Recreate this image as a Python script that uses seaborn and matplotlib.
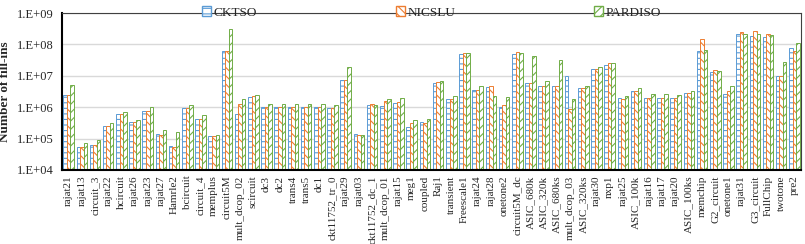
import matplotlib
matplotlib.use("Agg")
import matplotlib.pyplot as plt
import matplotlib.ticker as mticker
import seaborn as sns
import pandas as pd
import numpy as np

categories = ["rajat21", "rajat13", "circuit_3", "rajat22", "hcircuit", "rajat26", "rajat23", "rajat27",
              "Hamrle2", "bcircuit", "circuit_4", "memplus", "circuit5M", "mult_dcop_02", "scircuit", "dc3",
              "dc2", "trans4", "trans5", "dc1", "ckt11752_tr_0", "rajat29", "rajat03", "ckt11752_dc_1",
              "mult_dcop_01", "rajat15", "meg1", "coupled", "Raj1", "transient", "Freescale1", "rajat24",
              "rajat28", "onetone2", "circuit5M_dc", "ASIC_680k", "ASIC_320k", "ASIC_680ks", "mult_dcop_03",
              "ASIC_320ks", "rajat30", "nxp1", "rajat25", "ASIC_100k", "rajat16", "rajat17", "rajat20",
              "ASIC_100ks", "memchip", "G2_circuit", "onetone1", "rajat31", "G3_circuit", "FullChip",
              "twotone", "pre2"]

cktso = [2.4e6, 5.6e4, 6.4e4, 2.5e5, 6.3e5, 3.4e5, 7.8e5, 1.4e5,
         5.9e4, 9.1e5, 4.2e5, 1.2e5, 6.1e7, 6.0e5, 2.15e6, 1.0e6,
         1.0e6, 1.0e6, 1.0e6, 1.0e6, 9.1e5, 7.4e6, 1.45e5, 1.15e6,
         1.07e6, 1.4e6, 2.3e5, 3.4e5, 6.1e6, 1.8e6, 4.8e7, 3.6e6,
         4.3e6, 1.0e6, 5.0e7, 6.1e6, 4.9e6, 4.7e6, 1.0e7,
         4.0e6, 1.7e7, 2.2e7, 2.0e6, 3.4e6, 2.0e6, 2.0e6, 1.9e6,
         2.8e6, 6.0e7, 1.3e7, 2.6e6, 2.1e8, 1.85e8, 1.7e8,
         1.0e7, 7.8e7]
nicslu = [2.4e6, 5.6e4, 6.4e4, 2.5e5, 6.3e5, 3.4e5, 7.8e5, 1.3e5,
          5.6e4, 9.1e5, 4.2e5, 1.2e5, 6.1e7, 1.3e6, 2.2e6, 1.0e6,
          1.0e6, 1.0e6, 1.0e6, 1.0e6, 9.1e5, 7.4e6, 1.35e5, 1.3e6,
          1.6e6, 1.5e6, 3.2e5, 3.2e5, 6.4e6, 1.8e6, 5.3e7, 3.6e6,
          4.9e6, 1.2e6, 5.8e7, 6.1e6, 4.9e6, 4.7e6, 8.5e5,
          4.0e6, 1.7e7, 2.5e7, 1.85e6, 3.4e6, 2.0e6, 2.0e6, 1.9e6,
          2.8e6, 1.5e8, 1.55e7, 3.2e6, 2.4e8, 2.7e8, 2.2e8,
          1.0e7, 6.1e7]
pardiso = [5.0e6, 7.0e4, 8.9e4, 3.1e5, 6.8e5, 4.0e5, 1.0e6, 1.9e5,
           1.6e5, 1.15e6, 5.5e5, 1.35e5, 3.2e8, 1.8e6, 2.5e6, 1.3e6,
           1.3e6, 1.3e6, 1.3e6, 1.3e6, 1.2e6, 1.9e7, 1.35e5, 1.2e6,
           1.85e6, 1.9e6, 4.0e5, 4.3e5, 6.7e6, 2.2e6, 5.5e7, 4.6e6,
           2.3e6, 2.1e6, 5.5e7, 4.2e7, 6.6e6, 3.2e7, 1.85e6,
           4.9e6, 1.9e7, 2.5e7, 2.3e6, 4.0e6, 2.7e6, 2.7e6, 2.4e6,
           3.3e6, 6.6e7, 1.4e7, 4.6e6, 2.1e8, 2.2e8, 2.0e8,
           2.7e7, 1.07e8]

series_names = ["CKTSO", "NICSLU", "PARDISO"]
colors = ["#5B9BD5", "#ED7D31", "#70AD47"]
hatches = ["---", "\\\\\\\\", "////"]

df = pd.DataFrame({
    "matrix": categories * 3,
    "solver": np.repeat(series_names, len(categories)),
    "fill": cktso + nicslu + pardiso,
})

sns.set_theme(style="white")
plt.rcParams["font.family"] = ["Liberation Serif", "DejaVu Serif"]
plt.rcParams["hatch.linewidth"] = 0.8

fig = plt.figure(figsize=(8.05, 2.44), dpi=100)
ax = fig.add_axes([62 / 805, 1 - 170 / 244, 739 / 805, 157 / 244])

sns.barplot(data=df, x="matrix", y="fill", hue="solver", hue_order=series_names,
            palette=colors, width=0.8, ax=ax, legend=True, saturation=1)

for cont, c, h in zip(ax.containers, colors, hatches):
    for bar in cont:
        bar.set_facecolor("white")
        bar.set_edgecolor(c)
        bar.set_hatch(h)
        bar.set_linewidth(0.7)

ax.set_yscale("log")
ax.set_ylim(1e4, 1e9)
ax.set_xlim(-0.5, len(categories) - 0.5)
ax.yaxis.set_major_locator(mticker.LogLocator(base=10, numticks=10))
ax.yaxis.set_minor_locator(mticker.NullLocator())
ax.yaxis.set_major_formatter(mticker.FuncFormatter(lambda v, p: "1.E+%02d" % int(round(np.log10(v)))))
ax.grid(axis="y", color="#d9d9d9", linewidth=1.0)
ax.set_axisbelow(True)

ax.set_xlabel("")
ax.set_ylabel("Number of fill-ins", fontsize=9.5, fontweight="bold", labelpad=4)
ax.tick_params(axis="y", labelsize=9, length=0, pad=6)
ax.tick_params(axis="x", labelsize=8, length=0, pad=4)
plt.setp(ax.get_xticklabels(), rotation=90)

for s in ["left", "bottom"]:
    ax.spines[s].set_color("black")
    ax.spines[s].set_linewidth(1.5)
for s in ["top", "right"]:
    ax.spines[s].set_color("#404040")
    ax.spines[s].set_linewidth(0.8)

handles, labels = ax.get_legend_handles_labels()
for hnd, c, h in zip(handles, colors, hatches):
    hnd.set_facecolor("white")
    hnd.set_edgecolor(c)
    hnd.set_hatch(h)
ax.legend(handles, labels, loc="lower center", bbox_to_anchor=(0.5, 0.93), ncol=3,
          frameon=False, fontsize=9.5, columnspacing=10.5, handlelength=0.7, handleheight=0.7,
          handletextpad=0.2, borderaxespad=0)

fig.savefig("out.png", dpi=100)
